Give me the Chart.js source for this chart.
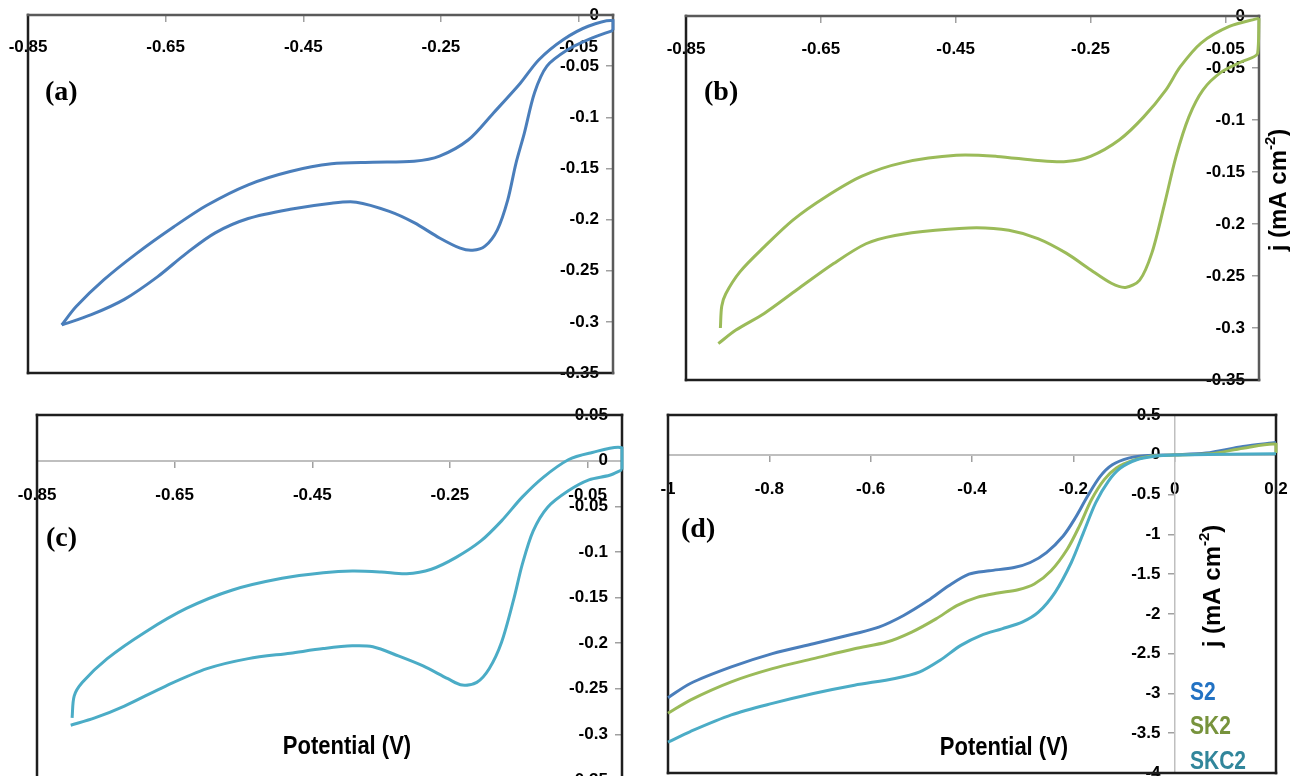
<!DOCTYPE html>
<html>
<head>
<meta charset="utf-8">
<script src="https://cdn.jsdelivr.net/npm/chart.js@4.4.1/dist/chart.umd.min.js"></script>
<style>
html, body { margin: 0; padding: 0; background: #fff; overflow: hidden; }
#wrap { position: relative; width: 1290px; height: 776px; overflow: hidden; }
canvas { position: absolute; }
</style>
</head>
<body>
<div id="wrap"></div>
<script>
// tick labels
const cvTicksX = [-0.85, -0.65, -0.45, -0.25, -0.05];
const abTicksY = [0, -0.05, -0.1, -0.15, -0.2, -0.25, -0.3, -0.35];
const cTicksY = [0.05, 0, -0.05, -0.1, -0.15, -0.2, -0.25, -0.3, -0.35];
const dTicksX = [-1, -0.8, -0.6, -0.4, -0.2, 0, 0.2];
const dTicksY = [0.5, 0, -0.5, -1, -1.5, -2, -2.5, -3, -3.5, -4];
const seriesNames = ['S2', 'SK2', 'SKC2'];

// (a) cathodic sweep (lower branch) and return sweep (upper branch)
const aFwdV = [0, -0.036, -0.066, -0.096, -0.114, -0.129, -0.141, -0.153, -0.168, -0.186, -0.204, -0.222, -0.252, -0.289, -0.325, -0.373, -0.409, -0.469, -0.530, -0.578, -0.620, -0.662, -0.710, -0.758, -0.801];
const aFwdJ = [-0.015, -0.024, -0.034, -0.050, -0.076, -0.116, -0.145, -0.181, -0.210, -0.226, -0.230, -0.228, -0.218, -0.203, -0.192, -0.183, -0.184, -0.190, -0.199, -0.213, -0.233, -0.256, -0.278, -0.293, -0.303];
const aRevV = [-0.801, -0.780, -0.740, -0.692, -0.638, -0.590, -0.530, -0.469, -0.409, -0.349, -0.289, -0.252, -0.210, -0.174, -0.135, -0.108, -0.072, -0.036, 0, 0];
const aRevJ = [-0.303, -0.285, -0.259, -0.233, -0.207, -0.186, -0.166, -0.153, -0.1455, -0.144, -0.143, -0.138, -0.122, -0.096, -0.067, -0.044, -0.024, -0.011, -0.0055, -0.015];

// (b)
const bFwdV = [0, -0.002, -0.026, -0.056, -0.083, -0.104, -0.123, -0.141, -0.159, -0.177, -0.198, -0.219, -0.250, -0.286, -0.328, -0.371, -0.419, -0.480, -0.540, -0.583, -0.631, -0.685, -0.734, -0.776, -0.802];
const bFwdJ = [-0.002, -0.036, -0.044, -0.054, -0.071, -0.097, -0.135, -0.183, -0.228, -0.254, -0.261, -0.257, -0.244, -0.228, -0.214, -0.206, -0.2035, -0.206, -0.211, -0.219, -0.238, -0.263, -0.286, -0.302, -0.315];
const bRevV = [-0.799, -0.797, -0.791, -0.770, -0.734, -0.691, -0.643, -0.589, -0.528, -0.449, -0.389, -0.328, -0.286, -0.250, -0.207, -0.171, -0.138, -0.117, -0.086, -0.044, 0];
const bRevJ = [-0.300, -0.279, -0.267, -0.246, -0.222, -0.196, -0.174, -0.154, -0.141, -0.134, -0.135, -0.139, -0.140, -0.135, -0.119, -0.097, -0.071, -0.049, -0.026, -0.010, -0.002];

// (c)
const cFwdV = [0, -0.018, -0.048, -0.078, -0.108, -0.129, -0.145, -0.157, -0.175, -0.193, -0.211, -0.232, -0.253, -0.289, -0.325, -0.362, -0.392, -0.434, -0.482, -0.543, -0.603, -0.663, -0.723, -0.766, -0.801];
const cFwdJ = [-0.010, -0.016, -0.021, -0.033, -0.051, -0.077, -0.114, -0.151, -0.199, -0.228, -0.243, -0.246, -0.239, -0.225, -0.214, -0.204, -0.203, -0.206, -0.211, -0.217, -0.228, -0.247, -0.269, -0.282, -0.290];
const cRevV = [-0.799, -0.796, -0.784, -0.748, -0.693, -0.633, -0.567, -0.494, -0.434, -0.392, -0.350, -0.313, -0.277, -0.241, -0.205, -0.175, -0.145, -0.114, -0.078, -0.048, 0, 0];
const cRevJ = [-0.282, -0.258, -0.243, -0.217, -0.188, -0.162, -0.142, -0.129, -0.123, -0.121, -0.122, -0.124, -0.119, -0.106, -0.088, -0.066, -0.040, -0.018, 0.001, 0.008, 0.014, -0.010];

// (d) LSV curves
const dS2V = [-1.0, -0.956, -0.875, -0.794, -0.713, -0.632, -0.584, -0.535, -0.487, -0.446, -0.406, -0.366, -0.317, -0.285, -0.253, -0.220, -0.196, -0.172, -0.147, -0.123, -0.091, -0.059, 0, 0.062, 0.135, 0.2];
const dS2J = [-3.054, -2.875, -2.667, -2.5, -2.375, -2.25, -2.167, -2.02, -1.833, -1.646, -1.5, -1.458, -1.417, -1.354, -1.229, -1.021, -0.792, -0.521, -0.271, -0.125, -0.042, -0.0125, 0, 0.021, 0.104, 0.154];
const dSK2V = [-1.0, -0.956, -0.875, -0.794, -0.713, -0.632, -0.568, -0.519, -0.471, -0.430, -0.390, -0.349, -0.309, -0.277, -0.244, -0.212, -0.188, -0.164, -0.139, -0.115, -0.083, -0.051, 0, 0.071, 0.135, 0.2, 0.2];
const dSK2J = [-3.25, -3.083, -2.854, -2.688, -2.5625, -2.4375, -2.354, -2.229, -2.0625, -1.896, -1.792, -1.7375, -1.696, -1.625, -1.458, -1.1875, -0.896, -0.5625, -0.3125, -0.167, -0.071, -0.021, -0.004, 0.0125, 0.083, 0.133, 0.021];
const dSKC2V = [-1.0, -0.956, -0.875, -0.794, -0.713, -0.632, -0.552, -0.503, -0.463, -0.422, -0.382, -0.341, -0.301, -0.269, -0.236, -0.204, -0.180, -0.156, -0.131, -0.107, -0.075, -0.042, 0, 0.2];
const dSKC2J = [-3.6125, -3.479, -3.27, -3.125, -3.0, -2.896, -2.8125, -2.729, -2.583, -2.396, -2.27, -2.1875, -2.104, -1.979, -1.729, -1.354, -0.979, -0.604, -0.333, -0.167, -0.0625, -0.021, -0.004, 0.0125];

const BLUE = '#4a7ebb', GREEN = '#9bbb59', TEAL = '#4bacc6';
const tickFont = { family: 'Liberation Sans, Arial, sans-serif', size: 17, weight: 'bold' };
const DARK = '#1e1e1e', AXGREY = '#5a5a5a', ZEROGREY = '#bfbfbf';
const PX = 50, PY = 30;   // canvas margin round each plot box

function pts(xs, ys) {
    return xs.map((v, i) => ({ x: v, y: ys[i] }));
}

function line(xs, ys, color, order) {
    return {
        data: pts(xs, ys),
        showLine: true,
        borderColor: color,
        backgroundColor: color,
        borderWidth: 3,
        pointRadius: 0,
        tension: 0.3,
        fill: false,
        order: order || 0,
        clip: 6
    };
}

// draws the plot box and the loose texts of every panel (texts in page coordinates)
const decorPlugin = {
    id: 'decor',
    beforeDatasetsDraw(chart, args, o) {
        const a = chart.chartArea, ctx = chart.ctx;
        const b = o.box;
        ctx.save();
        ctx.lineWidth = 2.5;
        ctx.lineCap = 'square';
        const seg = (c, x1, y1, x2, y2) => {
            if (!c) return;
            ctx.strokeStyle = c;
            ctx.beginPath();
            ctx.moveTo(x1, y1);
            ctx.lineTo(x2, y2);
            ctx.stroke();
        };
        seg(b.left, a.left, a.top, a.left, a.bottom);
        seg(b.bottom, a.left, a.bottom, a.right, a.bottom);
        seg(b.top, a.left, a.top, a.right, a.top);
        seg(b.right, a.right, a.top, a.right, a.bottom);
        ctx.restore();
    },
    afterDraw(chart, args, o) {
        const ctx = chart.ctx;
        (o.texts || []).forEach(t => {
            ctx.save();
            ctx.font = t.font;
            ctx.fillStyle = t.color || '#000';
            ctx.textBaseline = 'middle';
            ctx.translate(t.x - o.ox, t.y - o.oy);
            if (t.rotate) ctx.rotate(-Math.PI / 2);
            if (t.sx) ctx.scale(t.sx, 1);
            if (t.sup) {
                // "j (mA cm" + superscript + ")"
                const small = t.font.replace(/\d+px/, Math.round(t.size * 0.62) + 'px');
                const w1 = ctx.measureText(t.text).width;
                ctx.font = small;
                const w2 = ctx.measureText(t.sup).width;
                ctx.font = t.font;
                const w3 = ctx.measureText(t.tail).width;
                let x = -(w1 + w2 + w3) / 2;
                ctx.textAlign = 'left';
                ctx.fillText(t.text, x, 0);
                x += w1;
                ctx.font = small;
                ctx.fillText(t.sup, x, -t.size * 0.32);
                x += w2;
                ctx.font = t.font;
                ctx.fillText(t.tail, x, 0);
            } else {
                ctx.textAlign = t.align || 'center';
                ctx.fillText(t.text, 0, 0);
            }
            ctx.restore();
        });
    }
};

function scaleX(min, max, vals, border, pad) {
    return {
        type: 'linear', min: min, max: max,
        position: { y: 0 },
        afterBuildTicks: s => { s.ticks = vals.map(v => ({ value: v })); },
        ticks: { autoSkip: false, maxRotation: 0, color: '#000', font: tickFont, padding: pad, callback: v => String(v) },
        grid: { drawOnChartArea: false, drawTicks: true, tickLength: 6, color: '#a0a0a0', lineWidth: 1.5 },
        border: border
    };
}

function scaleY(min, max, vals, border) {
    return {
        type: 'linear', min: min, max: max,
        position: { x: 0 },
        afterBuildTicks: s => { s.ticks = vals.map(v => ({ value: v })); },
        ticks: { autoSkip: false, color: '#000', font: tickFont, padding: 8, callback: v => String(v) + '   ' },
        grid: { drawOnChartArea: false, drawTicks: true, tickLength: 6, color: '#a0a0a0', lineWidth: 1.5 },
        border: border
    };
}

// box = plot area in page pixels [left, top, right, bottom]
function panel(box, datasets, scales, decor) {
    const cv = document.createElement('canvas');
    const w = box[2] - box[0] + 2 * PX, h = box[3] - box[1] + 2 * PY;
    cv.width = w;
    cv.height = h;
    cv.style.left = (box[0] - PX) + 'px';
    cv.style.top = (box[1] - PY) + 'px';
    document.getElementById('wrap').appendChild(cv);
    decor.ox = box[0] - PX;
    decor.oy = box[1] - PY;
    return new Chart(cv, {
        type: 'scatter',
        data: { datasets: datasets },
        options: {
            responsive: false,
            animation: false,
            layout: { padding: { left: PX, right: PX, top: PY, bottom: PY } },
            plugins: { legend: { display: false }, tooltip: { enabled: false }, decor: decor },
            scales: scales
        },
        plugins: [decorPlugin]
    });
}

const labelFont = 'bold 28px "Liberation Serif", "Times New Roman", serif';
const titleFont = 'bold 25px "Liberation Sans", Arial, sans-serif';
const yTitle = { text: 'j (mA cm', sup: '-2', tail: ')', size: 24, font: 'bold 24px "Liberation Sans", Arial, sans-serif', rotate: true };

panel([28, 15, 613, 373],
    [line(aFwdV, aFwdJ, BLUE), line(aRevV, aRevJ, BLUE)],
    { x: scaleX(-0.85, 0, cvTicksX, { display: true, color: AXGREY, width: 2 }, 16),
      y: scaleY(-0.35, 0, abTicksY, { display: true, color: AXGREY, width: 2 }) },
    { box: { left: DARK, bottom: DARK, top: AXGREY, right: AXGREY },
      texts: [{ text: '(a)', x: 45, y: 93, font: labelFont, align: 'left' }] });

panel([686, 16, 1259, 380],
    [line(bFwdV, bFwdJ, GREEN), line(bRevV, bRevJ, GREEN)],
    { x: scaleX(-0.85, 0, cvTicksX, { display: true, color: AXGREY, width: 2 }, 17),
      y: scaleY(-0.35, 0, abTicksY, { display: true, color: AXGREY, width: 2 }) },
    { box: { left: DARK, bottom: DARK, top: AXGREY, right: AXGREY },
      texts: [{ text: '(b)', x: 704, y: 93, font: labelFont, align: 'left' },
              Object.assign({ x: 1279, y: 190 }, yTitle)] });

panel([37, 415, 622, 780],
    [line(cFwdV, cFwdJ, TEAL), line(cRevV, cRevJ, TEAL)],
    { x: scaleX(-0.85, 0, cvTicksX, { display: true, color: ZEROGREY, width: 2 }, 18),
      y: scaleY(-0.35, 0.05, cTicksY, { display: true, color: DARK, width: 2 }) },
    { box: { left: DARK, bottom: DARK, top: DARK, right: DARK },
      texts: [{ text: '(c)', x: 46, y: 539, font: labelFont, align: 'left' },
              { text: 'Potential (V)', x: 347, y: 747, font: titleFont, sx: 0.88 }] });

panel([668, 415, 1276, 773],
    [line(dS2V, dS2J, BLUE, 3), line(dSK2V, dSK2J, GREEN, 2), line(dSKC2V, dSKC2J, TEAL, 1)],
    { x: scaleX(-1, 0.2, dTicksX, { display: true, color: ZEROGREY, width: 2 }, 18),
      y: scaleY(-4, 0.5, dTicksY, { display: true, color: ZEROGREY, width: 1.5 }) },
    { box: { left: DARK, bottom: DARK, top: DARK, right: DARK },
      texts: [{ text: '(d)', x: 681, y: 530, font: labelFont, align: 'left' },
              { text: 'Potential (V)', x: 1004, y: 748, font: titleFont, sx: 0.88 },
              Object.assign({ x: 1213, y: 586 }, yTitle),
              { text: seriesNames[0], x: 1190, y: 693, font: titleFont, align: 'left', sx: 0.84, color: '#2272c3' },
              { text: seriesNames[1], x: 1190, y: 727, font: titleFont, align: 'left', sx: 0.84, color: '#77933c' },
              { text: seriesNames[2], x: 1190, y: 762, font: titleFont, align: 'left', sx: 0.84, color: '#31869b' }] });
</script>
</body>
</html>
